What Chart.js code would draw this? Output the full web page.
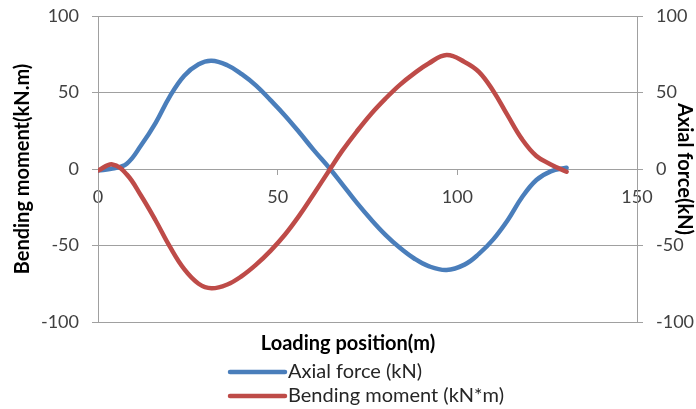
<!DOCTYPE html>
<html>
<head>
<meta charset="utf-8">
<script src="https://cdn.jsdelivr.net/npm/chart.js@4.4.1/dist/chart.umd.min.js"></script>
<style>
  html, body { margin: 0; padding: 0; background: #fff; }
  #wrap { width: 696px; height: 409px; }
</style>
</head>
<body>
<div id="wrap"><canvas id="forceChart"></canvas></div>
<script>
// loading positions (m)
const positions = [0, 4, 8, 12, 16, 20, 24, 28, 31.6, 36, 40, 44, 48, 52, 56, 60, 64.6, 68, 72, 76, 80, 84, 88, 92, 97, 102, 106, 110, 114, 118, 122, 126, 130.4];
// axial force (kN) - right axis
const axialForce = [-1, 0.3, 3.5, 15.5, 30, 47.5, 61, 68.5, 70.8, 67.8, 62, 54.5, 45, 35, 24, 12.5, 0, -10, -22, -33, -43, -51.5, -58.5, -63.5, -66, -62.5, -55.5, -46, -33.5, -18.5, -7.2, -1.5, 0.8];
// bending moment (kN.m) - left axis
const bendingMoment = [-1, 3, -3.5, -17.5, -33.5, -50.8, -65.5, -75, -78, -75.5, -70, -62.5, -53.5, -43, -30.5, -16.5, 0, 12, 24.5, 36, 46, 55, 62.5, 69, 74.5, 70, 63.5, 51, 35, 19.5, 8.5, 3, -1.8];

const xTicks = [0, 50, 100, 150];
const yTicks = [-100, -50, 0, 50, 100];

const gridColor = '#a0a0a0';
const labelColor = '#404040';
const fontFamily = 'Lato, "Open Sans", sans-serif';

function toPoints(xs, ys) {
  return xs.map((x, i) => ({ x: x, y: ys[i] }));
}

// legend under the axis title, two rows, left aligned like Excel's
const stackedLegend = {
  id: 'stackedLegend',
  afterDraw(chart) {
    const ctx = chart.ctx;
    const order = [0, 1];
    const left = 230, lineLen = 55, top = 372, rowH = 24;
    ctx.save();
    ctx.font = '20px ' + fontFamily;
    ctx.textBaseline = 'middle';
    order.forEach((idx, row) => {
      const ds = chart.data.datasets[idx];
      const y = top + row * rowH;
      ctx.strokeStyle = ds.borderColor;
      ctx.lineWidth = 4.5;
      ctx.lineCap = 'round';
      ctx.beginPath();
      ctx.moveTo(left, y);
      ctx.lineTo(left + lineLen, y);
      ctx.stroke();
      ctx.fillStyle = '#262626';
      ctx.fillText(ds.label, left + lineLen + 3, y);
    });
    ctx.restore();
  }
};

// keep the top/bottom labels from pushing the plot area in
function tightY(scale, width) {
  scale.width = width;
  scale.paddingTop = 9;
  scale.paddingBottom = 9;
}

const ctx = document.getElementById('forceChart').getContext('2d');
const chart = new Chart(ctx, {
  type: 'scatter',
  data: {
    datasets: [
      {
        label: 'Axial force (kN)',
        data: toPoints(positions, axialForce),
        yAxisID: 'y1',
        borderColor: '#4a7ebb',
        backgroundColor: '#4a7ebb',
        order: 2
      },
      {
        label: 'Bending moment (kN*m)',
        data: toPoints(positions, bendingMoment),
        yAxisID: 'y',
        borderColor: '#be4b48',
        backgroundColor: '#be4b48',
        order: 1
      }
    ]
  },
  options: {
    responsive: true,
    maintainAspectRatio: false,
    animation: false,
    showLine: true,
    elements: {
      point: { radius: 0, hoverRadius: 0 },
      line: { borderWidth: 4.5, tension: 0.4, borderCapStyle: 'round', borderJoinStyle: 'round' }
    },
    layout: { padding: { top: 16, left: 0, right: 0, bottom: 43 } },
    plugins: {
      legend: { display: false },
      tooltip: { enabled: false },
      title: {
        display: true,
        text: 'Loading position(m)',
        position: 'bottom',
        weight: 500,
        color: '#000',
        font: { family: fontFamily, size: 20, weight: 'bold' },
        padding: { top: 10, bottom: 10 }
      }
    },
    scales: {
      x: {
        type: 'linear',
        position: { y: 0 },
        min: 0,
        max: 150,
        afterBuildTicks: (scale) => { scale.ticks = xTicks.map(v => ({ value: v })); },
        grid: { drawOnChartArea: false, drawTicks: true, tickLength: 5, color: gridColor },
        border: { color: gridColor },
        ticks: { color: labelColor, padding: 12, maxRotation: 0, font: { family: fontFamily, size: 18 } }
      },
      y: {
        type: 'linear',
        position: 'left',
        min: -100,
        max: 100,
        afterBuildTicks: (scale) => { scale.ticks = yTicks.map(v => ({ value: v })); },
        afterFit: (scale) => tightY(scale, 98),
        grid: { color: gridColor, tickLength: 6 },
        border: { color: gridColor },
        ticks: { color: labelColor, padding: 13, font: { family: fontFamily, size: 18 } },
        title: {
          display: true,
          text: 'Bending moment(kN.m)',
          color: '#000',
          font: { family: fontFamily, size: 20, weight: 'bold' },
          padding: { top: 11, bottom: 4 }
        }
      },
      y1: {
        type: 'linear',
        position: 'right',
        min: -100,
        max: 100,
        afterBuildTicks: (scale) => { scale.ticks = yTicks.map(v => ({ value: v })); },
        afterFit: (scale) => tightY(scale, 59),
        grid: { drawOnChartArea: false, color: gridColor, tickLength: 6 },
        border: { color: gridColor },
        ticks: { color: labelColor, padding: 13, font: { family: fontFamily, size: 18 } },
        title: {
          display: true,
          text: 'Axial force(kN)',
          color: '#000',
          font: { family: fontFamily, size: 20, weight: 'bold' },
          padding: { top: 0, bottom: 0 }
        }
      }
    }
  },
  plugins: [stackedLegend]
});
</script>
</body>
</html>
